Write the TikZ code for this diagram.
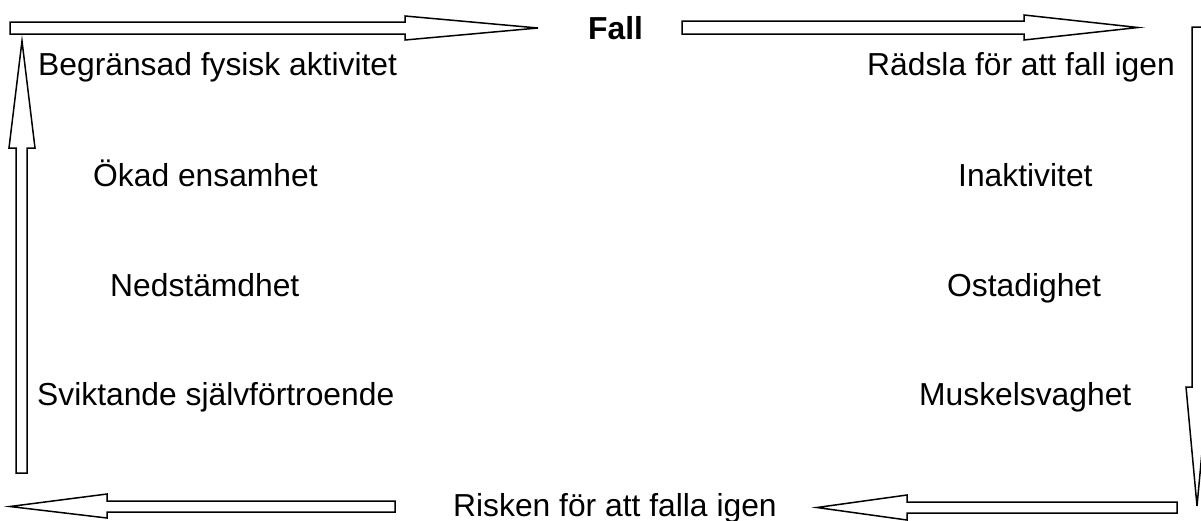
\documentclass[tikz,border=0pt]{standalone}
\usepackage{fontspec}
\setmainfont{Liberation Sans}
\begin{document}
\begin{tikzpicture}[x=1pt,y=-1pt,
  lbl/.style={anchor=base west,inner sep=0pt,font=\fontsize{31.8}{38}\selectfont},
  blockarrow/.style={draw=black,line width=1.5pt,line join=miter,fill=white}]
\useasboundingbox (0,0) rectangle (1201,520);
\begin{scope}
\clip (0,0) rectangle (1201,520);
% top left arrow (rightward)
\draw[blockarrow] (10,22) -- (405,22) -- (405,16) -- (538,28) -- (405,40) -- (405,34) -- (10,34) -- cycle;
% top right arrow (rightward)
\draw[blockarrow] (682,21) -- (1024,21) -- (1024,15) -- (1138,27.5) -- (1024,40) -- (1024,34) -- (682,34) -- cycle;
% right arrow (downward)
\draw[blockarrow] (1192,27) -- (1203,27) -- (1203,387) -- (1208,387) -- (1197,506) -- (1186,387) -- (1192,387) -- cycle;
% bottom right arrow (leftward)
\draw[blockarrow] (1177,502) -- (907,502) -- (907,495) -- (817,507.5) -- (907,520) -- (907,513) -- (1177,513) -- cycle;
% bottom left arrow (leftward)
\draw[blockarrow] (395,501) -- (107,501) -- (107,494) -- (10,506.5) -- (107,518) -- (107,512) -- (395,512) -- cycle;
% left arrow (upward)
\draw[blockarrow] (16,473) -- (16,148) -- (9,148) -- (22,41) -- (35,148) -- (27,148) -- (27,473) -- cycle;
\end{scope}
\node[lbl,font=\fontsize{31.8}{38}\selectfont\bfseries] (fall) at (588,39) {Fall};
\node[lbl] (begr) at (38,75) {Begränsad fysisk aktivitet};
\node[lbl,anchor=base east] (radsla) at (1175,75) {Rädsla för att fall igen};
\node[lbl] (okad) at (93,186) {Ökad ensamhet};
\node[lbl] (ned) at (110,296) {Nedstämdhet};
\node[lbl] (svik) at (37,405) {Sviktande självförtroende};
\node[lbl] (inakt) at (958,186) {Inaktivitet};
\node[lbl] (ostad) at (947,296) {Ostadighet};
\node[lbl] (musk) at (919,405) {Muskelsvaghet};
\node[lbl] (risk) at (453,516) {Risken för att falla igen};
\end{tikzpicture}
\end{document}
